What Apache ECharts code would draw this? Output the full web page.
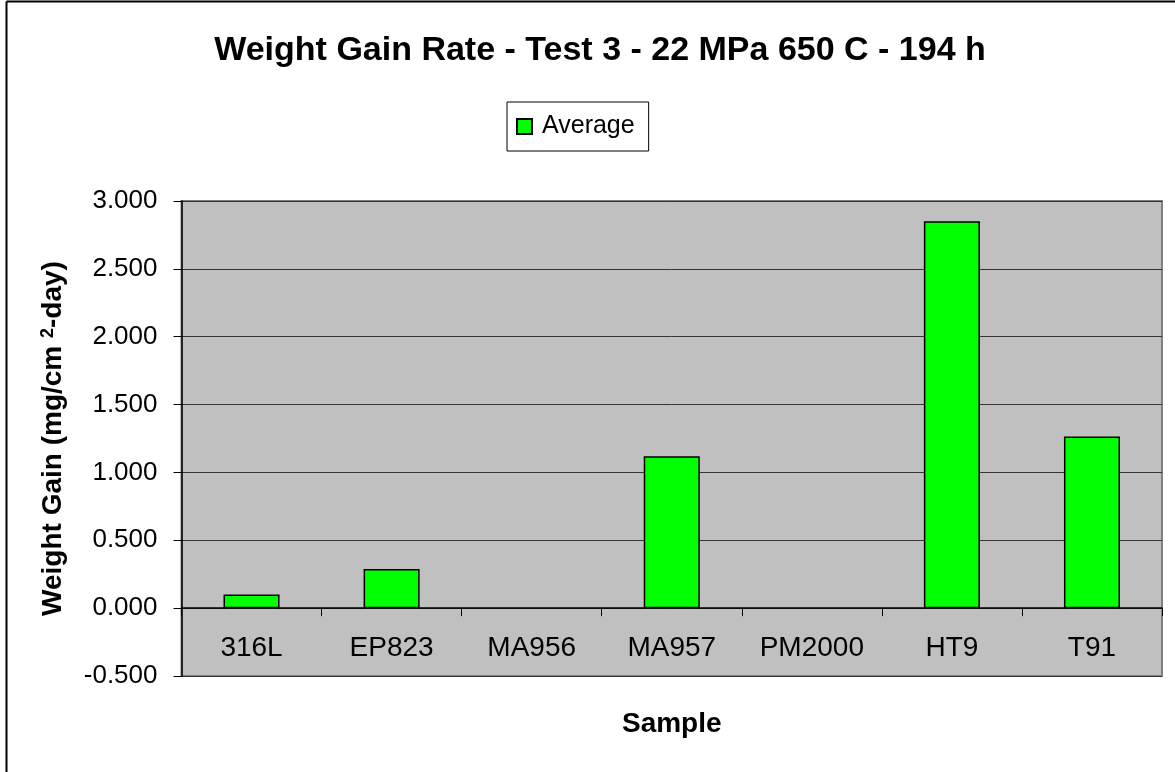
<!DOCTYPE html>
<html>
<head>
<meta charset="utf-8">
<script src="https://cdn.jsdelivr.net/npm/echarts@6/dist/echarts.min.js"></script>
<style>
  html, body { margin: 0; padding: 0; background: #fff; }
  #chart { width: 1175px; height: 772px; }
</style>
</head>
<body>
<div id="chart"></div>
<script>
// Sample names along the category axis
const samples = ['316L', 'EP823', 'MA956', 'MA957', 'PM2000', 'HT9', 'T91'];
// Average weight gain rate, mg/cm^2-day (no bar for MA956 and PM2000)
const averageGain = [0.10, 0.288, null, 1.12, null, 2.85, 1.265];
// Value axis range and step
const yMin = -0.5;
const yMax = 3.0;
const yStep = 0.5;

const FONT = '"Liberation Sans", Arial, sans-serif';

const chart = echarts.init(document.getElementById('chart'), null, { renderer: 'canvas' });

chart.setOption({
  backgroundColor: '#ffffff',
  animation: false,
  textStyle: { fontFamily: FONT, color: '#000' },
  title: {
    text: 'Weight Gain Rate - Test 3 - 22 MPa 650 C - 194 h',
    left: 595,
    top: 29,
    textAlign: 'center',
    textStyle: { fontFamily: FONT, fontSize: 34, fontWeight: 'bold', color: '#000' }
  },
  legend: {
    data: ['Average'],
    left: 507,
    top: 102,
    orient: 'horizontal',
    padding: [12, 14, 12, 9],
    borderColor: '#000',
    borderWidth: 1,
    backgroundColor: '#fff',
    itemWidth: 15,
    itemHeight: 15,
    icon: 'rect',
    textStyle: { fontFamily: FONT, fontSize: 25, color: '#000', padding: [0, 0, 0, 5] }
  },
  grid: {
    left: 181.5,
    right: 13,
    top: 201,
    bottom: 96,
    show: true,
    backgroundColor: '#C0C0C0',
    borderColor: '#808080',
    borderWidth: 2,
    containLabel: false,
    outerBoundsMode: 'none'
  },
  xAxis: {
    type: 'category',
    data: samples,
    name: 'Sample',
    nameLocation: 'middle',
    nameGap: 34,
    nameTextStyle: { fontFamily: FONT, fontSize: 28, fontWeight: 'bold', color: '#000' },
    axisLine: { onZero: true, lineStyle: { color: '#000', width: 1.5 } },
    axisTick: { show: true, alignWithLabel: false, length: 8, inside: false, lineStyle: { color: '#000', width: 1 } },
    // labels sit just under the zero line, inside the plot area
    axisLabel: { fontFamily: FONT, fontSize: 28, color: '#000', margin: -42, interval: 0 },
    splitLine: { show: false }
  },
  yAxis: {
    type: 'value',
    min: yMin,
    max: yMax,
    interval: yStep,
    name: 'Weight Gain (mg/cm {sup|2}-day)',
    nameLocation: 'middle',
    nameGap: 114,
    nameRotate: 90,
    nameTextStyle: {
      fontFamily: FONT, fontSize: 28, fontWeight: 'bold', color: '#000',
      rich: {
        sup: { fontFamily: FONT, fontSize: 18, fontWeight: 'bold', color: '#000', verticalAlign: 'top', lineHeight: 28 }
      }
    },
    axisLine: { show: true, lineStyle: { color: '#000', width: 1.5 } },
    axisTick: { show: true, length: 8, lineStyle: { color: '#000', width: 1 } },
    axisLabel: {
      fontFamily: FONT, fontSize: 26, color: '#000', margin: 24,
      formatter: v => v.toFixed(3)
    },
    splitLine: { show: true, lineStyle: { color: '#333', width: 1 } }
  },
  series: [{
    name: 'Average',
    type: 'bar',
    data: averageGain,
    barWidth: '40%',
    itemStyle: { color: '#00FF00', borderColor: '#000', borderWidth: 1.5 }
  }],
  graphic: [
    { type: 'line', shape: { x1: 6.5, y1: 1.5, x2: 1175, y2: 1.5 }, style: { stroke: '#000', lineWidth: 2 }, silent: true },
    { type: 'line', shape: { x1: 6.5, y1: 1.5, x2: 6.5, y2: 772 }, style: { stroke: '#000', lineWidth: 2 }, silent: true }
  ]
});
</script>
</body>
</html>
